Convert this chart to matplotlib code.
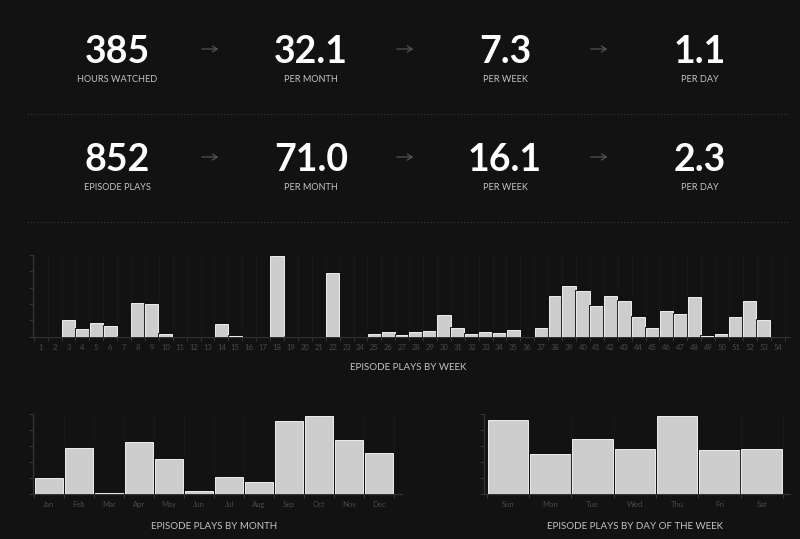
import matplotlib
matplotlib.use("Agg")
import matplotlib.pyplot as plt
import matplotlib.patheffects as pe
import numpy as np

# ---------------- data ----------------
stat_rows = [
    ["385", "32.1", "7.3", "1.1"],
    ["852", "71.0", "16.1", "2.3"],
]
stat_labels = [
    ["HOURS WATCHED", "PER MONTH", "PER WEEK", "PER DAY"],
    ["EPISODE PLAYS", "PER MONTH", "PER WEEK", "PER DAY"],
]

weeks = [str(i) for i in range(1, 55)]
week_plays = [0, 0, 18, 9, 15, 12, 0, 37, 36, 3,
              0, 0, 0, 14, 1, 0, 0, 89, 0, 0,
              0, 70, 0, 0, 3, 5, 2, 5, 6, 24,
              10, 3, 5, 4, 7, 0, 10, 45, 56, 50,
              34, 45, 39, 22, 10, 28, 25, 44, 1, 3,
              22, 39, 18, 0]

months = ["Jan", "Feb", "Mar", "Apr", "May", "Jun",
          "Jul", "Aug", "Sep", "Oct", "Nov", "Dec"]
month_plays = [33, 92, 2, 104, 70, 7, 35, 25, 146, 156, 108, 82]

days = ["Sun", "Mon", "Tue", "Wed", "Thu", "Fri", "Sat"]
day_plays = [167, 90, 125, 102, 176, 99, 101]

# ---------------- style ----------------
W, H = 800, 539
BG = "#121212"
BAR = "#cdcdcd"
BAR_EDGE = "#e9e9e9"
AXC = "#333333"
TICKC = "#4a4a4a"
TITLEC = "#c4c4c4"
FONT = ["Lato", "DejaVu Sans"]

fig = plt.figure(figsize=(W / 100, H / 100), dpi=100, facecolor=BG)


def fx(x):
    return x / W


def fy(y):
    return 1 - y / H


# ---------------- stats ----------------
col_x = [117, 311, 505, 700]
arrow_x = [(199, 221), (394, 416), (588, 610)]
row_num_y = [52, 160]
row_lab_y = [80, 188]
row_arrow_y = [49, 157]

for r in range(2):
    for c in range(4):
        fig.text(fx(col_x[c]), fy(row_num_y[r]), stat_rows[r][c],
                 ha="center", va="center", color="white",
                 fontsize=27, fontweight="bold", family=FONT)
        fig.text(fx(col_x[c]), fy(row_lab_y[r]), stat_labels[r][c],
                 ha="center", va="center", color=TITLEC,
                 fontsize=6.6, family=FONT)
    for (x0, x1) in arrow_x:
        fig.add_artist(matplotlib.patches.FancyArrowPatch(
            (fx(x0), fy(row_arrow_y[r])), (fx(x1), fy(row_arrow_y[r])),
            transform=fig.transFigure, arrowstyle="->,head_length=3.5,head_width=2.2",
            color="#5a5a5a", lw=0.8))

for yy in [114, 221.5]:
    fig.add_artist(matplotlib.lines.Line2D([fx(27), fx(790)], [fy(yy), fy(yy)],
                                           transform=fig.transFigure, color="#3a3a3a",
                                           lw=0.8, linestyle=(0, (1, 2))))


# ---------------- bar charts ----------------
def bar_chart(left, right, top, bottom, labels, values, step, xpad_l, xpad_r,
              title, title_x, title_y, width=0.94):
    ax = fig.add_axes([fx(left), fy(bottom), (right - left) / W, (bottom - top) / H])
    ax.set_facecolor(BG)
    n = len(values)
    x = np.arange(n)
    for b in np.arange(-0.5, n, 1.0):
        ax.axvline(b, color="#181818", lw=0.8, zorder=0)
    bars = ax.bar(x, values, width=width, color=BAR, edgecolor=BAR_EDGE,
                  linewidth=0.8, zorder=3)
    for p in bars:
        p.set_path_effects([pe.Stroke(linewidth=2.0, foreground="#050505"), pe.Normal()])
    ax.set_xlim(-0.5 - xpad_l, n - 0.5 + xpad_r)
    ax.set_ylim(0, 5 * step)
    ax.set_yticks([i * step for i in range(6)])
    ax.set_yticklabels([])
    ax.set_xticks(x)
    ax.set_xticklabels(labels, fontsize=5.5, color=TICKC, family=FONT)
    ax.set_xticks(np.arange(-0.5, n, 1.0), minor=True)
    ax.tick_params(axis="x", which="major", length=0, pad=5)
    ax.tick_params(axis="x", which="minor", length=3, color=AXC, width=0.8)
    ax.tick_params(axis="y", length=3, color=AXC, width=0.8)
    for s in ["top", "right"]:
        ax.spines[s].set_visible(False)
    for s in ["left", "bottom"]:
        ax.spines[s].set_color(AXC)
        ax.spines[s].set_linewidth(0.9)
    fig.text(fx(title_x), fy(title_y), title, ha="center", va="center",
             color=TITLEC, fontsize=7, family=FONT)
    return ax


bar_chart(33, 790, 255, 336.7, weeks, week_plays, 18, 0.05, 0.39,
          "EPISODE PLAYS BY WEEK", 408, 368, width=0.95)
bar_chart(33.3, 401.7, 414, 494.3, months, month_plays, 32, 0.02, 0.25,
          "EPISODE PLAYS BY MONTH", 214, 526.7, width=0.95)
bar_chart(484, 790, 414, 494.3, days, day_plays, 36, 0.07, 0.17,
          "EPISODE PLAYS BY DAY OF THE WEEK", 635, 526.7, width=0.96)

fig.savefig("out.png", dpi=100, facecolor=BG)
